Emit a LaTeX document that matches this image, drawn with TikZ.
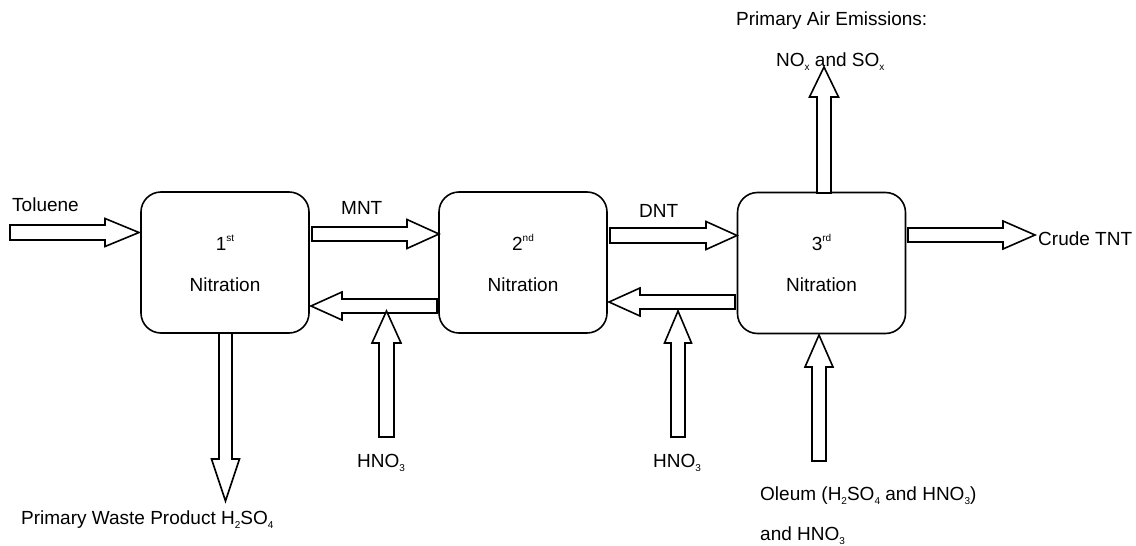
\documentclass[tikz,border=0pt]{standalone}
\usepackage{fontspec}
\setmainfont{Liberation Sans}
\newcommand\sbs[1]{\raisebox{-4.5pt}{\fontsize{10}{10}\selectfont #1}}
\newcommand\sps[1]{\raisebox{8.5pt}{\fontsize{10}{10}\selectfont #1}}
% horizontal block arrow: center y, tail x, head-base x, tip x, shaft half, head half
\newcommand\harrow[6]{\draw[blk] (#2,#1-#5)--(#3,#1-#5)--(#3,#1-#6)--(#4,#1)--(#3,#1+#6)--(#3,#1+#5)--(#2,#1+#5)--cycle;}
% vertical block arrow: center x, tail y, head-base y, tip y, shaft half, head half
\newcommand\varrow[6]{\draw[blk] (#1-#5,#2)--(#1-#5,#3)--(#1-#6,#3)--(#1,#4)--(#1+#6,#3)--(#1+#5,#3)--(#1+#5,#2)--cycle;}
\begin{document}
\begin{tikzpicture}[x=1pt,y=-1pt,
  box/.style={draw,line width=1.6pt,rounded corners=20pt,minimum width=168pt,minimum height=141pt,inner sep=0pt},
  blk/.style={draw,line width=1.6pt,fill=white,line join=miter},
  lbl/.style={inner sep=0pt,anchor=base west,font=\fontsize{19}{21}\selectfont},
  ctr/.style={inner sep=0pt,anchor=base,font=\fontsize{19}{21}\selectfont}]
\useasboundingbox (0,0) rectangle (1136,546);
\node[box] (b1) at (225,262.5) {};
\node[box] (b2) at (523,262.5) {};
\node[box] (b3) at (821.5,263) {};
\node[ctr] (t1a) at (225,250) {1\sps{st}};
\node[ctr] (t1b) at (225,291) {Nitration};
\node[ctr] (t2a) at (523,250) {2\sps{nd}};
\node[ctr] (t2b) at (523,291) {Nitration};
\node[ctr] (t3a) at (821.5,250) {3\sps{rd}};
\node[ctr] (t3b) at (821.5,291) {Nitration};
% arrows
\harrow{232.5}{10}{105}{139}{7.5}{14}
\harrow{234}{312}{407}{439}{7}{14.5}
\harrow{306}{437}{342}{311}{7}{14}
\harrow{235.5}{610}{706}{737}{7.5}{14}
\harrow{302}{735}{640}{609}{7}{14}
\harrow{235}{908}{1003}{1035}{7}{14}
\varrow{386.5}{437}{343}{311}{7.5}{14.5}
\varrow{678}{437}{343}{311}{7}{13.5}
\varrow{819}{461}{367}{335}{7}{14}
\varrow{225.5}{333}{459}{501}{6.5}{14}
\varrow{824}{193}{97}{67}{7}{14.5}
% labels
\node[lbl] (tol) at (12,211) {Toluene};
\node[lbl] (mnt) at (341,214) {MNT};
\node[lbl] (dnt) at (639,217) {DNT};
\node[lbl] (tnt) at (1038,245) {Crude TNT};
\node[lbl] (pae) at (736,25) {Primary Air Emissions:};
\node[lbl] (nox) at (776,66) {NO\sbs{x} and SO\sbs{x}};
\node[lbl] (h1) at (357,467) {HNO\sbs{3}};
\node[lbl] (h2) at (653,467) {HNO\sbs{3}};
\node[lbl] (ol) at (760,500) {Oleum (H\sbs{2}SO\sbs{4} and HNO\sbs{3})};
\node[lbl] (ol2) at (760,540) {and HNO\sbs{3}};
\node[lbl] (pw) at (21,524) {Primary Waste Product H\sbs{2}SO\sbs{4}};
\end{tikzpicture}
\end{document}
